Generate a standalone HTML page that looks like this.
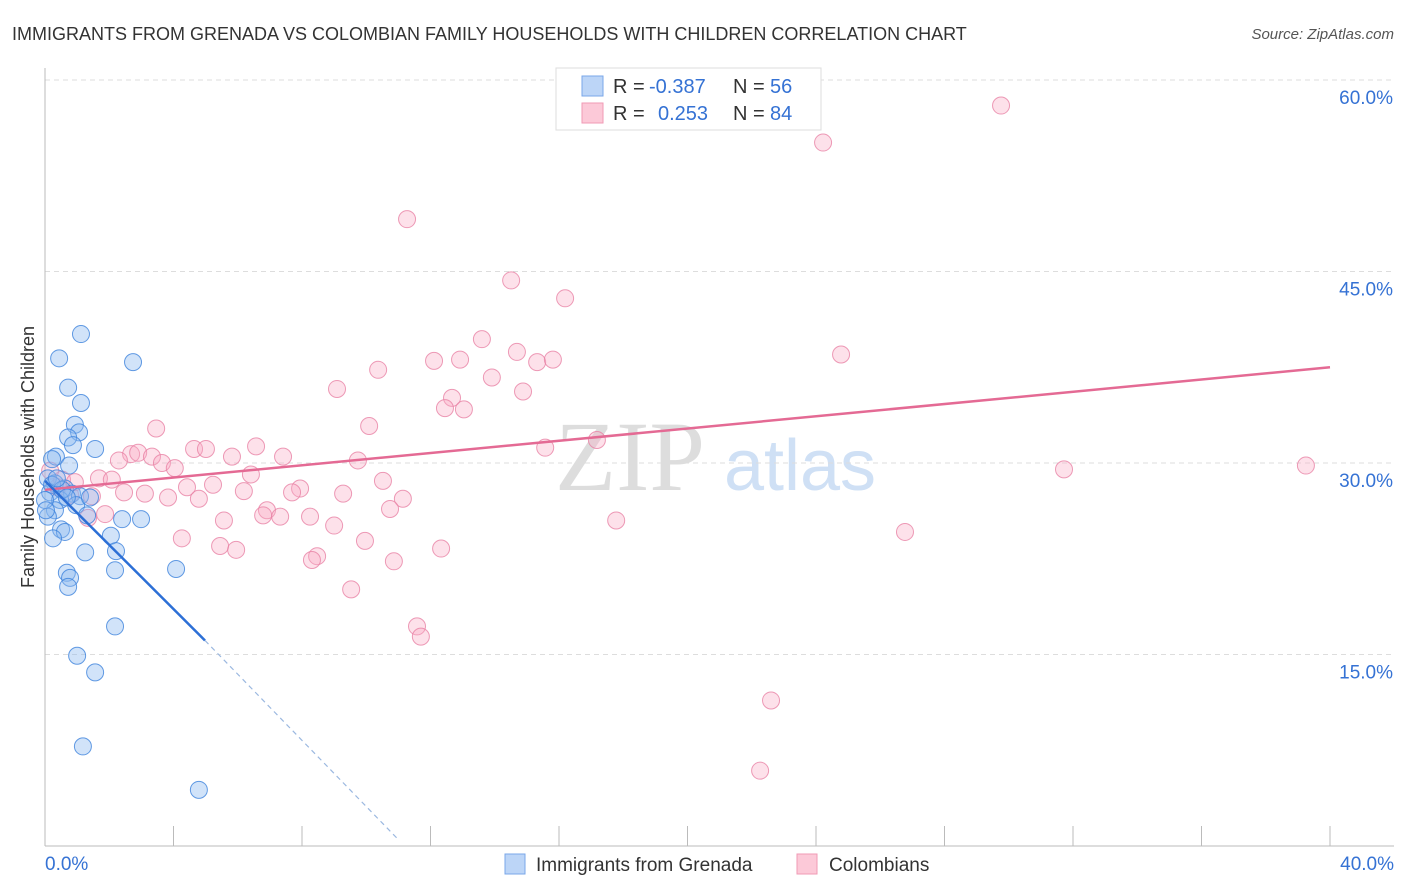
<!DOCTYPE html>
<html><head><meta charset="utf-8"><style>
body{margin:0;background:#fff;font-family:"Liberation Sans",sans-serif;}
svg{display:block}
</style></head><body>
<svg id="chart" width="1406" height="892">
<text x="12" y="40" font-size="18" fill="#333">IMMIGRANTS FROM GRENADA VS COLOMBIAN FAMILY HOUSEHOLDS WITH CHILDREN CORRELATION CHART</text>
<text x="1394" y="39" font-size="15" fill="#555" font-style="italic" text-anchor="end">Source: ZipAtlas.com</text>
<text x="0" y="0" transform="translate(34,457) rotate(-90)" font-size="18" fill="#333" text-anchor="middle">Family Households with Children</text>
<text x="630" y="490" font-size="100" fill="#ddd" font-family="Liberation Serif" text-anchor="middle">ZIP</text>
<text x="800" y="490" font-size="72" fill="#cfe0f5" text-anchor="middle">atlas</text>
<g id="grid"></g><g id="axes"></g><g id="pink"></g><g id="blue"></g><g id="lines"></g>
<g>
<rect x="556" y="68" width="265" height="62" fill="#fff" stroke="#ddd"/>
<rect x="582" y="76" width="21" height="20" fill="#bcd5f7" stroke="#7aa7e8"/>
<rect x="582" y="103" width="21" height="20" fill="#fcc9d8" stroke="#f09ab5"/>
<text y="93" font-size="20"><tspan x="613" fill="#333">R = </tspan><tspan x="649" fill="#3572d4">-0.387</tspan><tspan x="733" fill="#333">N = </tspan><tspan x="770" fill="#3572d4">56</tspan></text>
<text y="120" font-size="20"><tspan x="613" fill="#333">R = </tspan><tspan x="658" fill="#3572d4">0.253</tspan><tspan x="733" fill="#333">N = </tspan><tspan x="770" fill="#3572d4">84</tspan></text>
</g>
<g>
<rect x="505" y="854" width="20" height="20" fill="#bcd5f7" stroke="#7aa7e8"/>
<text x="536" y="871" font-size="19" fill="#333">Immigrants from Grenada</text>
<rect x="797" y="854" width="20" height="20" fill="#fcc9d8" stroke="#f09ab5"/>
<text x="829" y="871" font-size="19" fill="#333">Colombians</text>
</g>
</svg>
<script>
const yTicks=[15,30,45,60];
const yTickLabels=["15.0%","30.0%","45.0%","60.0%"];
const xEndLabels=["0.0%","40.0%"];
const blueX=[1.12,0.44,2.74,0.72,1.12,0.93,1.06,0.72,0.87,1.56,0.34,0.22,0.75,0.09,0.31,0.62,0.16,0.84,1.09,0.47,0.97,1.31,0.31,0.09,2.40,2.99,0.50,0.62,0.25,2.05,1.25,2.21,0.68,0.78,2.18,4.08,0.72,2.18,1.00,1.56,1.18,4.79,0.22,0.53,0,0.68,0.37,1.40,0.03];
const blueY=[40.1,38.2,37.9,35.9,34.7,33.0,32.4,32.0,31.4,31.1,30.5,30.3,29.8,28.8,28.4,28.0,27.7,27.6,27.4,27.1,26.7,25.9,26.3,25.8,25.6,25.6,24.8,24.6,24.1,24.3,23.0,23.1,21.4,21.0,21.6,21.7,20.3,17.2,14.9,13.6,7.8,4.4,28.3,27.9,27.1,27.3,28.8,27.3,26.3];
const pinkX=[29.76,24.22,11.27,14.51,16.19,13.60,24.78,14.69,12.11,12.92,15.32,15.81,10.37,13.91,9.09,14.88,12.67,12.45,13.04,10.09,3.46,17.18,15.57,4.64,5.01,6.57,2.68,2.90,3.33,5.82,7.41,2.30,3.64,9.74,4.04,31.72,39.25,6.41,1.68,2.08,10.52,4.42,5.23,7.94,6.19,7.69,2.46,3.11,9.28,1.46,3.83,4.79,11.14,0.78,0.40,10.74,6.91,6.79,7.32,8.25,1.87,1.34,5.57,17.78,9.00,4.26,26.77,9.96,5.45,5.95,12.33,8.47,8.31,10.86,9.53,11.58,11.70,22.60,22.26,0.53,0.93,0.16];
const pinkY=[58.0,55.1,49.1,44.3,42.9,39.7,38.5,38.7,38.0,38.1,37.9,38.1,37.3,36.7,35.8,35.6,35.1,34.3,34.2,32.9,32.7,31.8,31.2,31.1,31.1,31.3,30.7,30.8,30.5,30.5,30.5,30.2,30.0,30.2,29.6,29.5,29.8,29.1,28.8,28.7,28.6,28.1,28.3,28.0,27.8,27.7,27.7,27.6,27.6,27.4,27.3,27.2,27.2,27.5,28.1,26.4,26.3,25.9,25.8,25.8,26.0,25.7,25.5,25.5,25.1,24.1,24.6,23.9,23.5,23.2,23.3,22.7,22.4,22.3,20.1,17.2,16.4,11.4,5.9,28.7,28.5,29.4];
const blueLine=[[0,28.6],[4.98,16.1]];
const blueDash=[[4.98,16.1],[11.0,0.5]];
const pinkLine=[[0,27.9],[40,37.5]];
const NS="http://www.w3.org/2000/svg";
const X=v=>45+v/40*1285;
const Y=v=>846-v/15*191.5;
function mk(tag,attrs,parent){const e=document.createElementNS(NS,tag);for(const k in attrs)e.setAttribute(k,attrs[k]);document.getElementById(parent).appendChild(e);return e;}
yTicks.forEach((t,i)=>{
 const g=mk('line',{x1:45,x2:1394,y1:Y(t),y2:Y(t),stroke:'#ddd','stroke-dasharray':'5,4'},'grid');
 
 
 const l=mk('text',{x:1393,y:Y(t)+24,'font-size':19,fill:'#3572d4','text-anchor':'end'},'axes');
 l.textContent=yTickLabels[i];
 
 
});
const ya=mk('line',{x1:45,x2:45,y1:68,y2:846,stroke:'#bbb'},'axes');


const xa=mk('line',{x1:45,x2:1394,y1:846,y2:846,stroke:'#bbb'},'axes');


for(let i=1;i<=10;i++){const t=mk('line',{x1:X(i*4),x2:X(i*4),y1:826,y2:846,stroke:'#bbb'},'axes');
 
 }
[[0,'start',45],[40,'end',1394]].forEach((d,i)=>{const t=mk('text',{x:d[2],y:870,'font-size':19,fill:'#3572d4','text-anchor':d[1]},'axes');t.textContent=xEndLabels[i];
 
 });
pinkX.forEach((v,i)=>{const c=mk('circle',{cx:X(v),cy:Y(pinkY[i]),r:8.5,fill:'rgba(248,170,195,0.35)',stroke:'rgba(232,130,165,0.8)','stroke-width':1},'pink');
 
 });
blueX.forEach((v,i)=>{const c=mk('circle',{cx:X(v),cy:Y(blueY[i]),r:8.5,fill:'rgba(140,185,240,0.4)',stroke:'rgba(60,130,220,0.8)','stroke-width':1},'blue');
 
 });
const pl=mk('line',{x1:X(pinkLine[0][0]),y1:Y(pinkLine[0][1]),x2:X(pinkLine[1][0]),y2:Y(pinkLine[1][1]),stroke:'#e46a94','stroke-width':2.5},'lines');


const bl=mk('line',{x1:X(blueLine[0][0]),y1:Y(blueLine[0][1]),x2:X(blueLine[1][0]),y2:Y(blueLine[1][1]),stroke:'#2c6fd6','stroke-width':2.5},'lines');


const bd=mk('line',{x1:X(blueDash[0][0]),y1:Y(blueDash[0][1]),x2:X(blueDash[1][0]),y2:Y(blueDash[1][1]),stroke:'#9bb8e0','stroke-width':1.2,'stroke-dasharray':'5,4'},'lines');


</script>
</body></html>
